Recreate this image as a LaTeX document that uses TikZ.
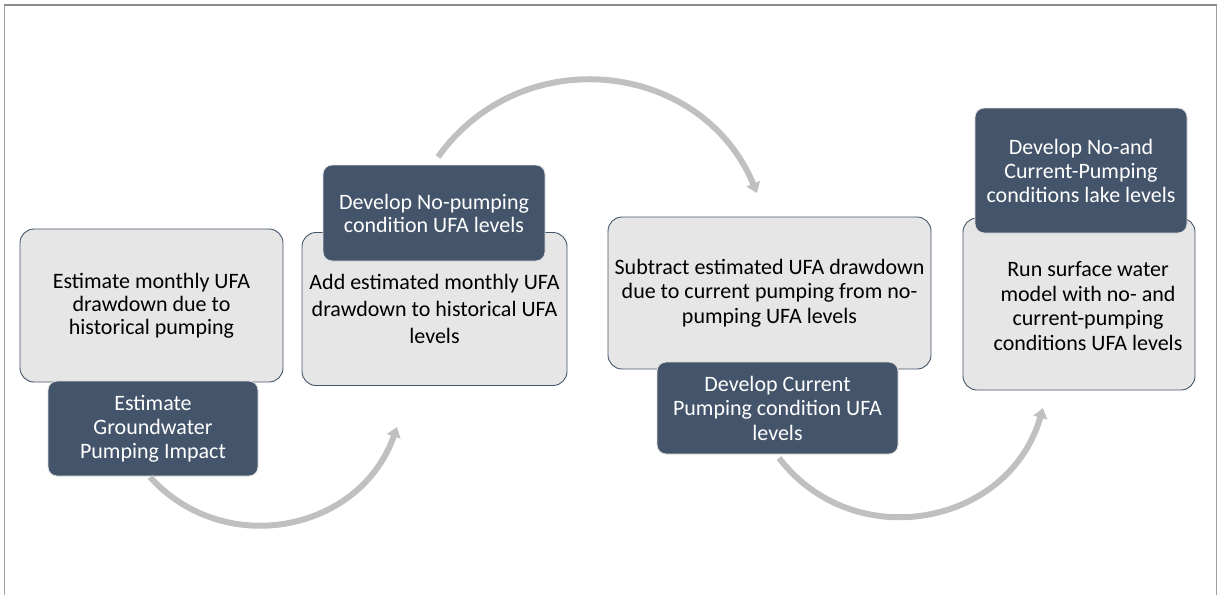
\documentclass[tikz,border=0pt]{standalone}
\usepackage{fontspec}
\setmainfont{Carlito}
\usetikzlibrary{arrows.meta}
\definecolor{darkbox}{HTML}{44546A}
\definecolor{lightbox}{HTML}{E7E6E6}
\definecolor{arrowgray}{HTML}{C0C0C0}
\definecolor{framegray}{HTML}{A0A0A0}
\tikzset{
  lbox/.style={draw=darkbox, line width=0.9pt, fill=lightbox, rounded corners=14pt,
    inner sep=0pt, align=center, text=black},
  dbox/.style={draw=gray!25, line width=0.9pt, fill=darkbox, rounded corners=9pt,
    inner sep=0pt, align=center, text=white},
  txt/.style={inner sep=0pt, align=center},
  arr/.style={draw=arrowgray, line width=6pt, -{Triangle[width=14pt,length=10pt]}},
}
\newcommand{\fs}[1]{\fontsize{22}{#1}\selectfont}
\begin{document}
\begin{tikzpicture}[x=1pt,y=-1pt]
\useasboundingbox (0,0) rectangle (1217,595);
% frame
\draw[framegray, line width=1pt] (4,595) -- (4,5);
\draw[framegray, line width=1pt] (1216,595) -- (1216,5);
\draw[gray!90, line width=1.6pt] (4,5) -- (1217,5);

% boxes A
\node[lbox, minimum width=263pt, minimum height=153pt, font=\fs{23}] (la) at (151.5,305.5)
  {Estimate monthly UFA\\drawdown due to\\historical pumping};
\node[dbox, minimum width=210pt, minimum height=95pt, font=\fs{24}] (da) at (153,428.5)
  {Estimate\\Groundwater\\Pumping Impact};
% boxes B
\node[lbox, minimum width=265pt, minimum height=153pt, font=\fs{27}] (lb) at (434.5,309)
  {Add estimated monthly UFA\\drawdown to historical UFA\\levels};
\node[dbox, minimum width=222pt, minimum height=96pt, font=\fs{23}] (db) at (434,213)
  {Develop No-pumping\\condition UFA levels};
% boxes C
\node[lbox, minimum width=323pt, minimum height=152pt, font=\fs{24.5}] (lc) at (769.5,293)
  {Subtract estimated UFA drawdown\\due to current pumping from no-\\pumping UFA levels};
\node[dbox, minimum width=241pt, minimum height=92pt, font=\fs{24.5}] (dc) at (777.5,408)
  {Develop Current\\Pumping condition UFA\\levels};
% boxes D
\node[lbox, minimum width=232pt, minimum height=172pt] (ld) at (1079,304) {};
\node[txt, font=\fs{24.5}] (tdl) at (1088,306)
  {Run surface water\\model with no- and\\current-pumping\\conditions UFA levels};
\node[dbox, minimum width=212pt, minimum height=125pt, font=\fs{24}] (dd) at (1081,170.5)
  {Develop No-and\\Current-Pumping\\conditions lake levels};

% arrows
\coordinate (a1s) at (150,477);
\coordinate (a1e) at (397,427);
\coordinate (a2s) at (438,157);
\coordinate (a2e) at (757,193);
\coordinate (a3s) at (779,458);
\coordinate (a3e) at (1043,408);
\draw[arr] (a1s) to[out=-47.9, in=250.7, distance=111pt] (a1e);
\draw[arr] (a2s) to[out=54.5, in=112.6, distance=144pt] (a2e);
\draw[arr] (a3s) to[out=-52.5, in=253.9, distance=123pt] (a3e);
\end{tikzpicture}
\end{document}
